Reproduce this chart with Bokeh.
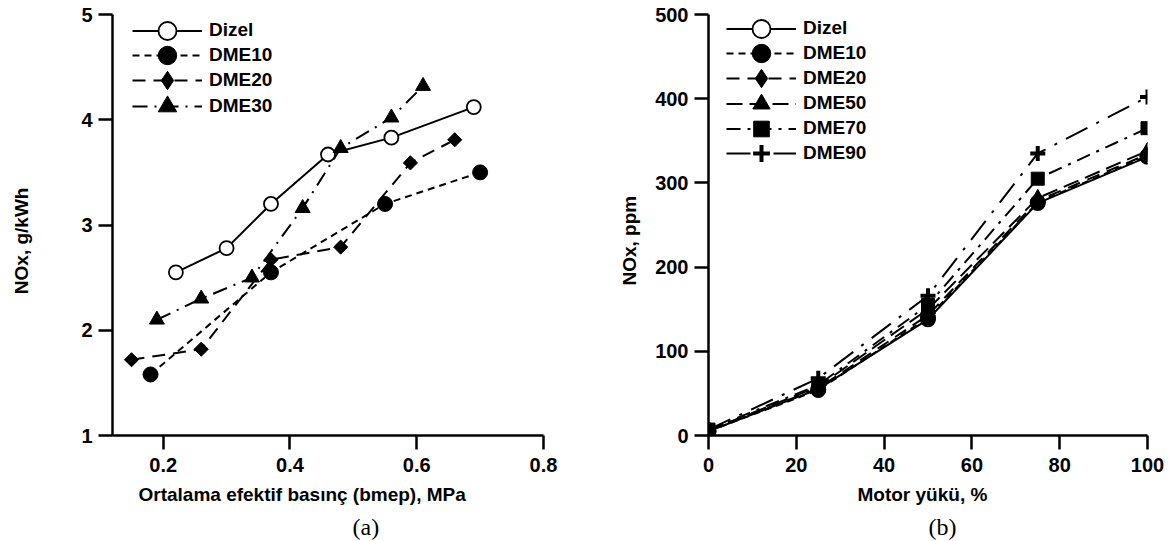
import math
from bokeh.plotting import figure
from bokeh.models import Range1d, FixedTicker, Legend, LegendItem, Title
from bokeh.layouts import row
from bokeh.embed import file_html
from bokeh.resources import INLINE

# ---------------- data: panel (a) ----------------
a_series = ["Dizel", "DME10", "DME20", "DME30"]
bmep_dizel = [0.22, 0.30, 0.37, 0.46, 0.56, 0.69]
nox_dizel_a = [2.55, 2.78, 3.20, 3.67, 3.83, 4.12]
bmep_dme10 = [0.18, 0.37, 0.55, 0.70]
nox_dme10_a = [1.58, 2.55, 3.20, 3.50]
bmep_dme20 = [0.15, 0.26, 0.37, 0.48, 0.59, 0.66]
nox_dme20_a = [1.72, 1.82, 2.67, 2.79, 3.59, 3.81]
bmep_dme30 = [0.19, 0.26, 0.34, 0.42, 0.48, 0.56, 0.61]
nox_dme30_a = [2.10, 2.30, 2.50, 3.16, 3.73, 4.02, 4.32]
a_xticks = [0.2, 0.4, 0.6, 0.8]
a_yticks = [1, 2, 3, 4, 5]

# ---------------- data: panel (b) ----------------
b_series = ["Dizel", "DME10", "DME20", "DME50", "DME70", "DME90"]
load = [0, 25, 50, 75, 100]
nox_dizel_b = [5, 55, 138, 276, 331]
nox_dme10_b = [5, 54, 140, 277, 332]
nox_dme20_b = [6, 56, 143, 279, 334]
nox_dme50_b = [6, 58, 150, 282, 338]
nox_dme70_b = [7, 60, 155, 305, 365]
nox_dme90_b = [7, 68, 166, 335, 402]
b_xticks = [0, 20, 40, 60, 80, 100]
b_yticks = [0, 100, 200, 300, 400, 500]

FONT = "Liberation Sans"
FS = "19px"
TICK_FS = "20px"
H = 541

# marker styles: (marker, size, angle, fill, line_width, legend glyph height)
MK = {
    "Dizel": ("circle", 14, 0.0, "white", 1.8, 45),
    "DME10": ("circle", 15, 0.0, "black", 1.0, 46),
    "DME20": ("square", 10, math.pi / 4, "black", 1.0, 46),
    "DME30": ("triangle", 15, 0.0, "black", 1.0, 46),
    "DME50": ("triangle", 15, 0.0, "black", 1.0, 43),
    "DME70": ("square", 13, 0.0, "black", 1.0, 39),
    "DME90": ("cross", 15, 0.0, "black", 4.0, 42),
}
DASH = {
    "Dizel": "solid",
    "DME10": "7 5",
    "DME20": "13 8",
    "DME30": "15 7 2 7",
    "DME50": "16 7",
    "DME70": "14 7 3 7",
    "DME90": "24 10 3 10",
}


def make_fig(width, xr, yr, bl, br, bt, bb):
    p = figure(width=width, height=H, x_range=xr, y_range=yr,
               output_backend="svg", toolbar_location=None,
               min_border_left=bl, min_border_right=br,
               min_border_top=bt, min_border_bottom=bb)
    p.outline_line_color = None
    p.xgrid.visible = False
    p.ygrid.visible = False
    p.background_fill_color = "white"
    p.border_fill_color = "white"
    return p


def style_axes(p, xticks, yticks):
    p.xaxis.ticker = FixedTicker(ticks=xticks)
    p.yaxis.ticker = FixedTicker(ticks=yticks)
    for ax in (p.xaxis[0], p.yaxis[0]):
        ax.axis_line_width = 2.5
        ax.axis_line_color = "black"
        ax.major_tick_line_width = 2.5
        ax.major_tick_line_color = "black"
        ax.major_tick_out = 14
        ax.major_tick_in = 0
        ax.minor_tick_line_color = None
        ax.major_label_text_font = FONT
        ax.major_label_text_font_style = "bold"
        ax.major_label_text_font_size = TICK_FS
        ax.major_label_text_color = "black"
    p.xaxis.major_label_standoff = 8
    p.yaxis.major_label_standoff = 6


def draw_series(p, names, xs, ys):
    lines = {}
    for n, x, y in zip(names, xs, ys):
        lines[n] = p.line(x, y, line_color="black", line_width=2, line_dash=DASH[n])
    marks = {}
    for n, x, y in zip(names, xs, ys):
        m, s, ang, fc, lw, _ = MK[n]
        marks[n] = p.scatter(x, y, marker=m, size=s, angle=ang, fill_color=fc,
                             line_color="black", line_width=lw)
        if n == "DME20":
            # legend-only diamond (rotation is not applied to legend glyphs)
            marks[n] = p.scatter(x, y, marker="diamond", size=s, fill_color="black",
                                 line_color="black", visible=False)
    return lines, marks


def add_legend_rows(p, names, lines, marks, centers, frame_left, frame_bottom, glyph_left):
    for n, c in zip(names, centers):
        gh = MK[n][5]
        lg = Legend(items=[LegendItem(label=n, renderers=[lines[n], marks[n]])],
                    location=(glyph_left - frame_left, frame_bottom - (c + gh / 2)),
                    glyph_width=70, glyph_height=gh, label_height=gh,
                    label_standoff=7, padding=0, margin=0, spacing=0,
                    border_line_color=None, background_fill_alpha=0,
                    label_text_font=FONT, label_text_font_style="bold",
                    label_text_font_size=FS, label_text_color="black")
        p.add_layout(lg)


def add_side_text(p, side, text, offset, standoff, font=FONT, style="bold", size=FS,
                  valign="bottom"):
    p.add_layout(Title(text=text, align="left", offset=offset, standoff=standoff,
                       vertical_align=valign,
                       text_font=font, text_font_style=style, text_font_size=size,
                       text_color="black"), side)


# ---------------- panel (a) ----------------
AL, AR, AT, AB = 112, 543, 13, 435
pa = make_fig(583, Range1d(0.12, 0.8), Range1d(1, 5), AL, 583 - AR, AT, H - AB)
style_axes(pa, a_xticks, a_yticks)
la, ma = draw_series(pa, a_series,
                     [bmep_dizel, bmep_dme10, bmep_dme20, bmep_dme30],
                     [nox_dizel_a, nox_dme10_a, nox_dme20_a, nox_dme30_a])
add_legend_rows(pa, a_series, la, ma, [30, 55, 80, 106], AL, AB, 132)
add_side_text(pa, "below", "Ortalama efektif basınç (bmep), MPa", 26, 14)
add_side_text(pa, "below", "(a)", 240, 0, font="Liberation Serif", style="normal", size="24px")
# y title as axis label; trailing no-break spaces lower the visible text a little
pa.yaxis.axis_label = "NOx, g/kWh" + "\u00a0" * 6
pa.yaxis.axis_label_text_font = FONT
pa.yaxis.axis_label_text_font_style = "bold"
pa.yaxis.axis_label_text_font_size = FS
pa.yaxis.axis_label_text_color = "black"
pa.yaxis.axis_label_standoff = 46

# ---------------- panel (b) ----------------
BL, BR, BT, BB = 708, 1147, 14, 435
WB = 1169 - 583
pb = make_fig(WB, Range1d(0, 100), Range1d(0, 500), BL - 583, 583 + WB - BR, BT, H - BB)
style_axes(pb, b_xticks, b_yticks)
lb, mb = draw_series(pb, b_series, [load] * 6,
                     [nox_dizel_b, nox_dme10_b, nox_dme20_b, nox_dme50_b, nox_dme70_b, nox_dme90_b])
add_legend_rows(pb, b_series, lb, mb, [28, 53, 78, 103, 128, 153], BL, BB, 726)
add_side_text(pb, "below", "Motor yükü, %", 149, 14)
add_side_text(pb, "below", "(b)", 220, 0, font="Liberation Serif", style="normal", size="24px")
add_side_text(pb, "left", "NOx, ppm", 150, 21, valign="top")

layout = row(pa, pb)
open("out.html", "w").write(file_html(layout, INLINE))
